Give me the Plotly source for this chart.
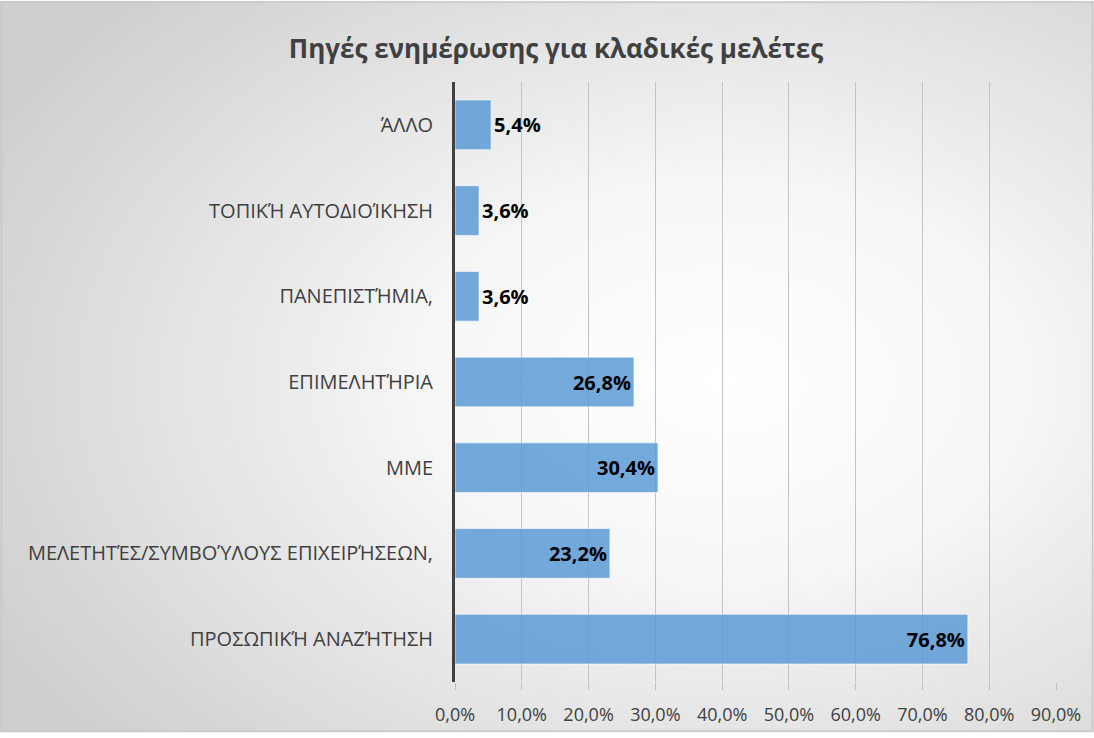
import base64
import plotly.graph_objects as go

categories = [
    "ΠΡΟΣΩΠΙΚΉ ΑΝΑΖΉΤΗΣΗ",
    "ΜΕΛΕΤΗΤΈΣ/ΣΥΜΒΟΎΛΟΥΣ ΕΠΙΧΕΙΡΉΣΕΩΝ,",
    "ΜΜΕ",
    "ΕΠΙΜΕΛΗΤΉΡΙΑ",
    "ΠΑΝΕΠΙΣΤΉΜΙΑ,",
    "ΤΟΠΙΚΉ ΑΥΤΟΔΙΟΊΚΗΣΗ",
    "ΆΛΛΟ",
]
values = [0.768, 0.232, 0.304, 0.268, 0.036, 0.036, 0.054]
x_ticks = [0.0, 0.1, 0.2, 0.3, 0.4, 0.5, 0.6, 0.7, 0.8, 0.9]
title_text = "Πηγές ενημέρωσης για κλαδικές μελέτες"

W, H = 1094, 738
L, R, T, B = 455, 38, 82, 51
pw, ph = W - L - R, H - T - B

svg = f"""<svg xmlns='http://www.w3.org/2000/svg' width='{W}' height='{H}' viewBox='0 0 {W} {H}' preserveAspectRatio='none'>
<defs><radialGradient id='g' cx='0.66' cy='0.52' r='0.75' gradientUnits='objectBoundingBox'>
<stop offset='0' stop-color='#ffffff'/><stop offset='0.35' stop-color='#f7f7f7'/><stop offset='1' stop-color='#cfcfcf'/></radialGradient></defs>
<rect x='0' y='0' width='{W}' height='{H}' fill='url(#g)'/>
<rect x='1.5' y='1.5' width='{W-3}' height='{H-3}' fill='none' stroke='#c8c8c8' stroke-width='1.5'/>
</svg>"""
src = "data:image/svg+xml;base64," + base64.b64encode(svg.encode()).decode()

textpos = ["inside" if v > 0.1 else "outside" for v in values]

fig = go.Figure(go.Bar(
    x=values, y=categories, orientation="h",
    marker=dict(color="rgba(91,155,213,0.85)", line=dict(color="rgba(255,255,255,0.6)", width=1)),
    texttemplate="%{x:.1%}", textposition=textpos, insidetextanchor="end",
    textfont=dict(family="Open Sans", size=20, color="#000000", weight="bold"),
    constraintext="none", cliponaxis=False,
))

fig.update_layout(
    width=W, height=H,
    margin=dict(l=L, r=R, t=T, b=B),
    paper_bgcolor="rgba(0,0,0,0)", plot_bgcolor="rgba(0,0,0,0)",
    separators=",.",
    bargap=0.42,
    showlegend=False,
    font=dict(family="Open Sans", color="#404040"),
    title=dict(text=title_text, x=556 / W, xref="container", xanchor="center",
               y=1 - 49 / H, yref="container", yanchor="middle",
               font=dict(family="Open Sans", size=26, color="#404040", weight="bold")),
    images=[dict(source=src, xref="paper", yref="paper",
                 x=-L / pw, y=1 + T / ph, sizex=W / pw, sizey=H / ph,
                 xanchor="left", yanchor="top", sizing="stretch", layer="below")],
)
fig.update_xaxes(
    range=[0, 0.9], tickvals=x_ticks, tickformat=".1%",
    showgrid=True, gridcolor="#c4c4c4", gridwidth=1, zeroline=False,
    showline=False, ticks="outside", ticklen=7, tickcolor="#bfbfbf",
    ticklabelstandoff=9,
    tickfont=dict(family="Open Sans", size=18, color="#404040"),
    fixedrange=True,
)
fig.update_yaxes(
    showgrid=False, showline=True, linecolor="#404040", linewidth=3,
    ticks="", ticklabelstandoff=15,
    tickfont=dict(family="Open Sans", size=20, color="#404040"),
    fixedrange=True,
)

fig.write_html("out.html", config={"displayModeBar": False},
               post_script="document.body.style.margin='0';document.body.style.overflow='hidden';")
